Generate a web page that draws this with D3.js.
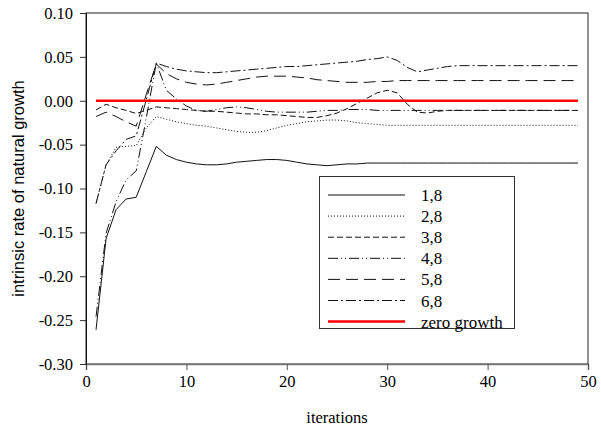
<!DOCTYPE html>
<html>
<head>
<meta charset="utf-8">
<script src="https://cdnjs.cloudflare.com/ajax/libs/d3/7.8.5/d3.min.js"></script>
<style>
    body { margin: 0; background: #fff; }
    .axis text { font-family: "Liberation Serif", "Times New Roman", serif; font-size: 16.5px; fill: #000; }
    .legend text { font-family: "Liberation Serif", "Times New Roman", serif; font-size: 17px; fill: #000; }
</style>
</head>
<body>
<div id="chart"></div>
<script>
// iterations 1..49
var iterations = d3.range(1, 50);

var s18 = [-0.261, -0.157, -0.124, -0.112, -0.110, -0.081, -0.052, -0.062, -0.067, -0.070,
    -0.072, -0.073, -0.073, -0.072, -0.070, -0.069, -0.068, -0.067, -0.067, -0.068,
    -0.070, -0.072, -0.073, -0.074, -0.073, -0.072, -0.072, -0.071, -0.071, -0.071,
    -0.071, -0.071, -0.071, -0.071, -0.071, -0.071, -0.071, -0.071, -0.071, -0.071,
    -0.071, -0.071, -0.071, -0.071, -0.071, -0.071, -0.071, -0.071, -0.071];
var s28 = [-0.117, -0.073, -0.053, -0.052, -0.051, -0.031, -0.018, -0.021, -0.024, -0.026,
    -0.028, -0.029, -0.031, -0.033, -0.035, -0.036, -0.036, -0.034, -0.031, -0.028,
    -0.026, -0.024, -0.023, -0.022, -0.022, -0.023, -0.025, -0.026, -0.027, -0.028,
    -0.028, -0.028, -0.028, -0.028, -0.028, -0.028, -0.028, -0.028, -0.028, -0.028,
    -0.028, -0.028, -0.028, -0.028, -0.028, -0.028, -0.028, -0.028, -0.028];
var s38 = [-0.0105, -0.004, -0.008, -0.011, -0.0145, -0.011, -0.007, -0.008, -0.009, -0.010,
    -0.011, -0.012, -0.012, -0.013, -0.014, -0.015, -0.015, -0.016, -0.016, -0.017,
    -0.018, -0.019, -0.019, -0.017, -0.014, -0.009, -0.003, 0.003, 0.009, 0.012,
    0.009, -0.004, -0.013, -0.014, -0.012, -0.011, -0.011, -0.011, -0.011, -0.011,
    -0.011, -0.011, -0.011, -0.011, -0.011, -0.011, -0.011, -0.011, -0.011];
var s48 = [-0.246, -0.151, -0.115, -0.090, -0.080, -0.020, 0.043, 0.012, 0.002, -0.006,
    -0.011, -0.012, -0.010, -0.008, -0.007, -0.008, -0.010, -0.012, -0.013, -0.013,
    -0.013, -0.013, -0.012, -0.011, -0.011, -0.010, -0.010, -0.010, -0.011, -0.011,
    -0.011, -0.011, -0.011, -0.011, -0.011, -0.011, -0.011, -0.011, -0.011, -0.011,
    -0.011, -0.011, -0.011, -0.011, -0.011, -0.011, -0.011, -0.011, -0.011];
var s58 = [-0.018, -0.013, -0.018, -0.024, -0.029, 0.007, 0.042, 0.031, 0.025, 0.021,
    0.019, 0.018, 0.019, 0.021, 0.023, 0.025, 0.027, 0.028, 0.028, 0.028,
    0.027, 0.026, 0.024, 0.023, 0.022, 0.021, 0.021, 0.021, 0.022, 0.022,
    0.023, 0.023, 0.023, 0.023, 0.023, 0.023, 0.023, 0.023, 0.023, 0.023,
    0.023, 0.023, 0.023, 0.023, 0.023, 0.023, 0.023, 0.023, 0.023];
var s68 = [-0.117, -0.073, -0.057, -0.044, -0.040, 0.001, 0.043, 0.039, 0.036, 0.034,
    0.033, 0.032, 0.032, 0.033, 0.034, 0.035, 0.036, 0.037, 0.038, 0.039,
    0.039, 0.040, 0.041, 0.042, 0.043, 0.044, 0.045, 0.047, 0.048, 0.050,
    0.046, 0.038, 0.033, 0.035, 0.037, 0.039, 0.040, 0.040, 0.040, 0.040,
    0.040, 0.040, 0.040, 0.040, 0.040, 0.040, 0.040, 0.040, 0.040];
var zeroGrowth = iterations.map(function () { return 0; });

var seriesNames = ["1,8", "2,8", "3,8", "4,8", "5,8", "6,8", "zero growth"];
var seriesValues = [s18, s28, s38, s48, s58, s68, zeroGrowth];
var dashes = [null, "1,2", "6,3", "10,3,1,3,1,3", "12,6", "10,3,2,3", null];

var xTicks = [0, 10, 20, 30, 40, 50];
var yTicks = [-0.30, -0.25, -0.20, -0.15, -0.10, -0.05, 0.00, 0.05, 0.10];

var width = 601;
var height = 430;
var plot = {left: 86, right: 588, top: 13, bottom: 364};

var svg = d3.select("#chart")
    .append("svg")
    .attr("width", width)
    .attr("height", height);

var xScale = d3.scaleLinear().domain([0, 50]).range([plot.left, plot.right]);
var yScale = d3.scaleLinear().domain([-0.30, 0.10]).range([plot.bottom, plot.top]);

// 外框
svg.append("rect")
    .attr("x", plot.left)
    .attr("y", plot.top)
    .attr("width", plot.right - plot.left)
    .attr("height", plot.bottom - plot.top)
    .attr("fill", "none")
    .attr("stroke", "#222")
    .attr("stroke-width", 1);

// 坐标轴
var gx = svg.append("g").attr("class", "axis")
    .attr("transform", "translate(0," + plot.bottom + ")")
    .call(d3.axisBottom(xScale).tickValues(xTicks).tickSize(6).tickPadding(5).tickFormat(d3.format("d")));
gx.select(".domain").attr("stroke", "#777").attr("stroke-width", 1.5);
gx.selectAll(".tick line").attr("stroke", "#555");

var gy = svg.append("g").attr("class", "axis")
    .attr("transform", "translate(" + plot.left + ",0)")
    .call(d3.axisLeft(yScale).tickValues(yTicks).tickSize(6).tickPadding(7)
        .tickFormat(function (d) { return d.toFixed(2); }));
gy.select(".domain").attr("stroke", "#111");
gy.selectAll(".tick line").attr("stroke", "#333");

// 坐标轴标题
svg.append("text")
    .attr("x", (plot.left + plot.right) / 2)
    .attr("y", 423)
    .attr("text-anchor", "middle")
    .style("font-family", "'Liberation Serif', 'Times New Roman', serif")
    .style("font-size", "16.5px")
    .text("iterations");

svg.append("text")
    .attr("transform", "translate(24," + ((plot.top + plot.bottom) / 2) + ") rotate(-90)")
    .attr("text-anchor", "middle")
    .style("font-family", "'Liberation Sans', Arial, sans-serif")
    .style("font-size", "16.5px")
    .text("intrinsic rate of natural growth");

// 折线
var line = d3.line()
    .x(function (d, i) { return xScale(iterations[i]); })
    .y(function (d) { return yScale(d); });

svg.append("g")
    .selectAll("path")
    .data(seriesValues)
    .enter().append("path")
    .attr("d", line)
    .attr("fill", "none")
    .attr("stroke", function (d, i) { return i === 6 ? "#ff0000" : "#111"; })
    .attr("stroke-width", function (d, i) { return i === 6 ? 2.5 : 1; })
    .attr("stroke-dasharray", function (d, i) { return dashes[i]; });

// 图例
var legend = svg.append("g").attr("class", "legend");
legend.append("rect")
    .attr("x", 319.5)
    .attr("y", 176.5)
    .attr("width", 195)
    .attr("height", 152)
    .attr("fill", "#fff")
    .attr("stroke", "#333")
    .attr("stroke-width", 1);

var rows = legend.selectAll("g.row")
    .data(seriesNames)
    .enter().append("g")
    .attr("class", "row")
    .attr("transform", function (d, i) { return "translate(0," + (195 + i * 21.1) + ")"; });

rows.append("line")
    .attr("x1", 328)
    .attr("x2", 405)
    .attr("y1", 0)
    .attr("y2", 0)
    .attr("stroke", function (d, i) { return i === 6 ? "#ff0000" : "#111"; })
    .attr("stroke-width", function (d, i) { return i === 6 ? 2.5 : 1; })
    .attr("stroke-dasharray", function (d, i) { return dashes[i]; });

rows.append("text")
    .attr("x", 421)
    .attr("y", 6)
    .text(function (d) { return d; });
</script>
</body>
</html>
